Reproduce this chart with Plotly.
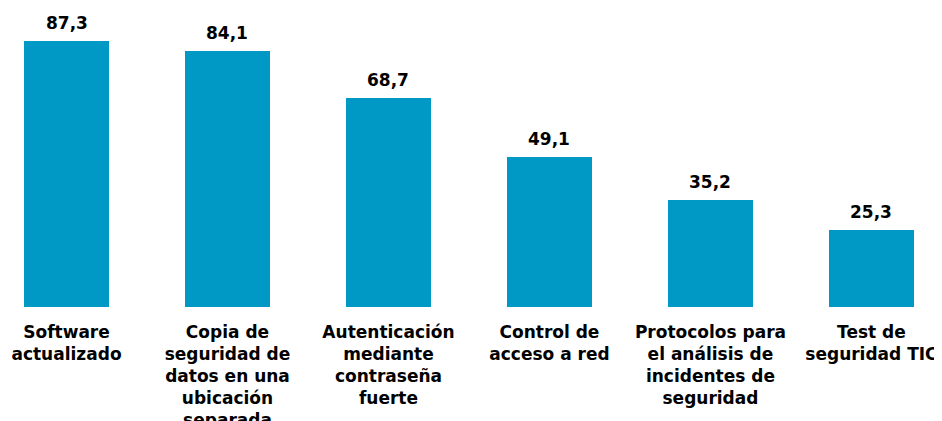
import plotly.graph_objects as go

categories = [
    "Software<br>actualizado",
    "Copia de<br>seguridad de<br>datos en una<br>ubicación<br>separada",
    "Autenticación<br>mediante<br>contraseña<br>fuerte",
    "Control de<br>acceso a red",
    "Protocolos para<br>el análisis de<br>incidentes de<br>seguridad",
    "Test de<br>seguridad TIC",
]
values = [87.3, 84.1, 68.7, 49.1, 35.2, 25.3]
value_labels = ["87,3", "84,1", "68,7", "49,1", "35,2", "25,3"]

FONT = "DejaVu Sans, Verdana, sans-serif"
xs = list(range(len(categories)))

fig = go.Figure(
    go.Bar(
        x=xs,
        y=values,
        marker=dict(color="#0099C6", line=dict(width=0)),
        width=0.528,
        cliponaxis=False,
        hoverinfo="skip",
    )
)

for x, v, lab in zip(xs, values, value_labels):
    fig.add_annotation(
        x=x, y=v, text="<b>" + lab + "</b>", showarrow=False,
        yanchor="middle", yshift=18,
        font=dict(family=FONT, size=17, color="#000000"),
    )

fig.update_layout(
    width=942,
    height=421,
    margin=dict(l=0, r=0, t=0, b=122),
    paper_bgcolor="white",
    plot_bgcolor="white",
    showlegend=False,
    bargap=0,
)
fig.update_xaxes(
    tickmode="array",
    tickvals=xs,
    ticktext=["<b>" + c.replace("<br>", "</b><br><b>") + "</b>" for c in categories],
    tickfont=dict(family=FONT, size=17, color="#000000"),
    range=[-0.3634, 5.488],
    showgrid=False,
    showline=False,
    zeroline=False,
    ticks="",
    ticklabelstandoff=13,
    automargin=False,
)
fig.update_yaxes(
    range=[0, 98.13],
    visible=False,
    showgrid=False,
    zeroline=False,
)

fig.write_html("out.html")
